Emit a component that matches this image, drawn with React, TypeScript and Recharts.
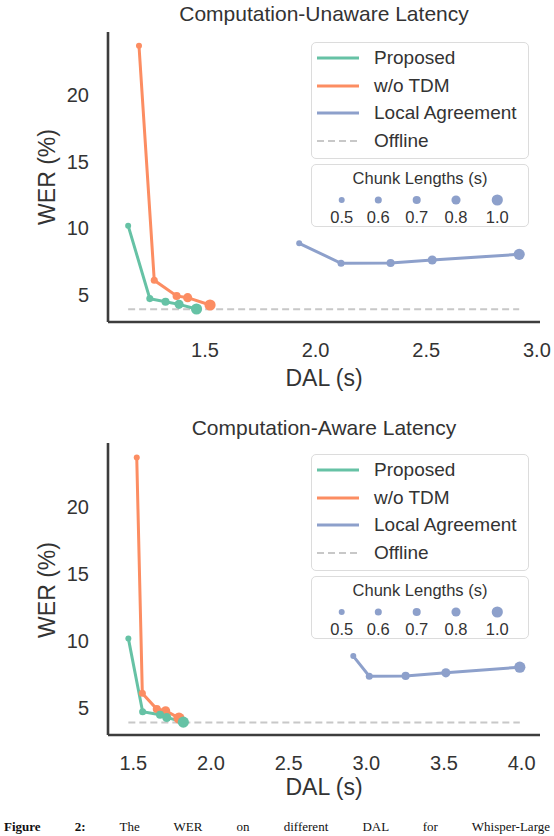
import React from "react";
import { LineChart, Line, XAxis, YAxis } from "recharts";

// chunk lengths (s) used for each point along a curve
const chunkLengths = [0.5, 0.6, 0.7, 0.8, 1.0];

// WER (%) is the same in both panels, only the latency measure changes
const werProposed = [10.2, 4.73, 4.5, 4.3, 3.95];
const werNoTdm = [23.7, 6.1, 4.93, 4.8, 4.25];
const werLocalAgreement = [8.88, 7.38, 7.4, 7.63, 8.05];
const werOffline = 3.93;

// DAL (s), computation-unaware
const dalUnawareProposed = [1.153, 1.251, 1.322, 1.383, 1.462];
const dalUnawareNoTdm = [1.202, 1.271, 1.372, 1.422, 1.523];
const dalUnawareLocalAgreement = [1.926, 2.115, 2.339, 2.527, 2.92];

// DAL (s), computation-aware
const dalAwareProposed = [1.468, 1.56, 1.672, 1.715, 1.822];
const dalAwareNoTdm = [1.522, 1.558, 1.651, 1.708, 1.794];
const dalAwareLocalAgreement = [2.916, 3.019, 3.253, 3.512, 3.988];

const unawareTicks = [1.5, 2.0, 2.5, 3.0];
const awareTicks = [1.5, 2.0, 2.5, 3.0, 3.5, 4.0];
const werTicks = [5, 10, 15, 20];

const GREEN = "#66c2a5";
const ORANGE = "#fc8d62";
const BLUE = "#8da0cb";
const GREY = "#c8c8c8";
const INK = "#333333";
const AXIS = "#3d3d3d";
const FONT = '"Liberation Sans", Arial, Helvetica, sans-serif';

const dotRadius = (len: number) => 3 + (len - 0.5) * 5.2;

const toRows = (dal: number[], wer: number[]) =>
  dal.map((d, i) => ({ dal: d, wer: wer[i] }));

const sizedDot = (color: string) => (props: any) => {
  const { cx, cy, index } = props;
  if (cx == null || cy == null) return <g key={`e-${index}`} />;
  return (
    <circle key={`d-${index}`} cx={cx} cy={cy} r={dotRadius(chunkLengths[index])} fill={color} />
  );
};

function Centered({ x, y, size, children, rotate }: any) {
  return (
    <div
      style={{
        position: "absolute",
        left: x,
        top: y,
        transform: `translate(-50%, -50%)${rotate ? " rotate(-90deg)" : ""}`,
        fontFamily: FONT,
        fontSize: size,
        color: INK,
        whiteSpace: "nowrap",
        lineHeight: 1,
      }}
    >
      {children}
    </div>
  );
}

function LegendBoxes({ top }: { top: number }) {
  const rows = [
    { label: "Proposed", color: GREEN, dashed: false },
    { label: "w/o TDM", color: ORANGE, dashed: false },
    { label: "Local Agreement", color: BLUE, dashed: false },
    { label: "Offline", color: GREY, dashed: true },
  ];
  const rowY = [16, 44, 71, 99];
  const dotX = [30.7, 67.3, 105.7, 145, 186.3];
  const box = {
    position: "absolute" as const,
    left: 311,
    width: 218,
    border: "1px solid #dcdcdc",
    borderRadius: 5,
    background: "rgba(255,255,255,0.85)",
    boxSizing: "border-box" as const,
  };
  return (
    <>
      <div style={{ ...box, top, height: 117 }}>
        <svg width={218} height={117} style={{ position: "absolute", left: -1, top: -1 }}>
          {rows.map((r, i) => (
            <line
              key={r.label}
              x1={6}
              x2={48}
              y1={rowY[i]}
              y2={rowY[i]}
              stroke={r.color}
              strokeWidth={r.dashed ? 2 : 3}
              strokeDasharray={r.dashed ? "7 4" : undefined}
            />
          ))}
        </svg>
        {rows.map((r, i) => (
          <div
            key={r.label}
            style={{
              position: "absolute",
              left: 62,
              top: rowY[i] - 13,
              height: 24,
              lineHeight: "24px",
              fontFamily: FONT,
              fontSize: 19,
              color: INK,
              whiteSpace: "nowrap",
            }}
          >
            {r.label}
          </div>
        ))}
      </div>
      <div style={{ ...box, top: top + 122, height: 63 }}>
        <Centered x={108} y={13} size={16.5}>
          Chunk Lengths (s)
        </Centered>
        <svg width={218} height={63} style={{ position: "absolute", left: -1, top: -1 }}>
          {chunkLengths.map((c, i) => (
            <circle key={c} cx={dotX[i]} cy={36} r={dotRadius(c)} fill={BLUE} />
          ))}
        </svg>
        {chunkLengths.map((c, i) => (
          <Centered key={c} x={dotX[i] - 1} y={52} size={16.5}>
            {c.toFixed(1)}
          </Centered>
        ))}
      </div>
    </>
  );
}

interface PanelProps {
  top: number;
  height: number;
  plotBottom: number;
  dalProposed: number[];
  dalNoTdm: number[];
  dalLocalAgreement: number[];
  xDomain: [number, number];
  xTicks: number[];
  yDomain: [number, number];
}

function Panel(p: PanelProps) {
  const allDal = [...p.dalProposed, ...p.dalNoTdm, ...p.dalLocalAgreement];
  const offline = [
    { dal: Math.min(...allDal), wer: werOffline },
    { dal: Math.max(...allDal), wer: werOffline },
  ];
  const tick = { fill: INK, fontSize: 20, fontFamily: FONT };
  return (
    <div style={{ position: "absolute", left: 0, top: p.top, width: 554, height: p.height }}>
      <LineChart
        width={554}
        height={p.height}
        margin={{ top: 32, right: 14, left: 48, bottom: p.height - p.plotBottom - 30 }}
      >
        <XAxis
          type="number"
          dataKey="dal"
          domain={p.xDomain}
          ticks={p.xTicks}
          allowDataOverflow
          tickFormatter={(v: number) => v.toFixed(1)}
          tickLine={false}
          tickSize={6}
          tickMargin={15}
          height={30}
          axisLine={{ stroke: AXIS, strokeWidth: 2.6 }}
          tick={tick}
        />
        <YAxis
          type="number"
          domain={p.yDomain}
          ticks={werTicks}
          allowDataOverflow
          tickLine={false}
          tickSize={6}
          tickMargin={13}
          width={60}
          axisLine={{ stroke: AXIS, strokeWidth: 2.6 }}
          tick={tick}
        />
        <Line
          data={offline}
          dataKey="wer"
          stroke={GREY}
          strokeWidth={2}
          strokeDasharray="7 4"
          dot={false}
          activeDot={false}
          isAnimationActive={false}
        />
        <Line
          data={toRows(p.dalLocalAgreement, werLocalAgreement)}
          dataKey="wer"
          stroke={BLUE}
          strokeWidth={3}
          dot={sizedDot(BLUE)}
          activeDot={false}
          isAnimationActive={false}
        />
        <Line
          data={toRows(p.dalNoTdm, werNoTdm)}
          dataKey="wer"
          stroke={ORANGE}
          strokeWidth={3}
          dot={sizedDot(ORANGE)}
          activeDot={false}
          isAnimationActive={false}
        />
        <Line
          data={toRows(p.dalProposed, werProposed)}
          dataKey="wer"
          stroke={GREEN}
          strokeWidth={3}
          dot={sizedDot(GREEN)}
          activeDot={false}
          isAnimationActive={false}
        />
      </LineChart>
    </div>
  );
}

export default function App() {
  return (
    <div
      style={{
        position: "absolute",
        left: 0,
        top: 0,
        width: 554,
        height: 836,
        overflow: "hidden",
        background: "#fff",
      }}
    >
      <Panel
        top={0}
        height={411}
        plotBottom={322}
        dalProposed={dalUnawareProposed}
        dalNoTdm={dalUnawareNoTdm}
        dalLocalAgreement={dalUnawareLocalAgreement}
        xDomain={[1.062, 3.014]}
        xTicks={unawareTicks}
        yDomain={[2.975, 24.73]}
      />
      <Panel
        top={411}
        height={425}
        plotBottom={324}
        dalProposed={dalAwareProposed}
        dalNoTdm={dalAwareNoTdm}
        dalLocalAgreement={dalAwareLocalAgreement}
        xDomain={[1.337, 4.118]}
        xTicks={awareTicks}
        yDomain={[2.99, 24.78]}
      />

      <Centered x={324} y={13} size={21}>Computation-Unaware Latency</Centered>
      <Centered x={324} y={378} size={23}>DAL (s)</Centered>
      <Centered x={47} y={177} size={23} rotate>WER (%)</Centered>
      <LegendBoxes top={42} />

      <Centered x={324} y={427} size={21}>Computation-Aware Latency</Centered>
      <Centered x={324} y={787} size={23}>DAL (s)</Centered>
      <Centered x={47} y={590} size={23} rotate>WER (%)</Centered>
      <LegendBoxes top={454} />

      <div
        style={{
          position: "absolute",
          left: 4,
          top: 820,
          width: 546,
          fontFamily: '"Liberation Serif", "Times New Roman", serif',
          fontSize: 13,
          color: "#111",
          whiteSpace: "nowrap",
          textAlign: "justify",
          textAlignLast: "justify",
          lineHeight: 1,
        }}
      >
        <b>Figure 2:</b> The WER on different DAL for Whisper-Large
      </div>
    </div>
  );
}
